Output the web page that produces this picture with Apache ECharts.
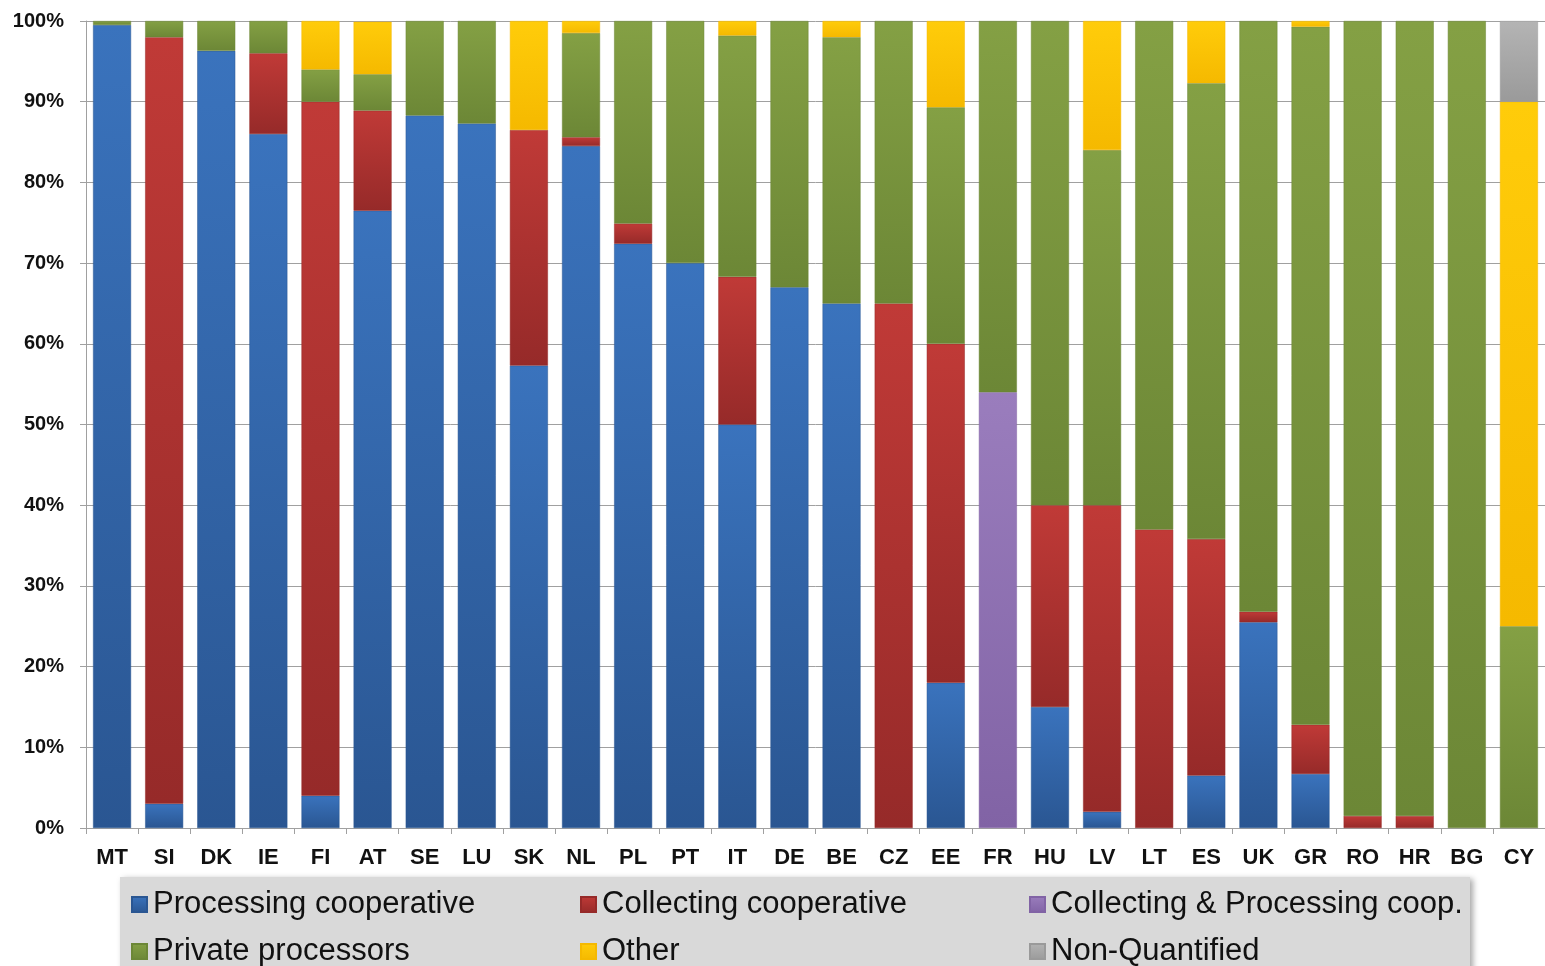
<!DOCTYPE html>
<html>
<head>
<meta charset="utf-8">
<script src="https://cdn.jsdelivr.net/npm/echarts@6/dist/echarts.min.js"></script>
<style>
  html, body { margin: 0; padding: 0; background: #fff; }
  #main { width: 1545px; height: 966px; }
</style>
</head>
<body>
<div id="main"></div>
<script>
// categories (countries)
const categories = ['MT','SI','DK','IE','FI','AT','SE','LU','SK','NL','PL','PT','IT','DE','BE','CZ','EE','FR','HU','LV','LT','ES','UK','GR','RO','HR','BG','CY'];

// shares in %
const processing = [99.5,3,96.3,86,4,76.5,88.3,87.3,57.3,84.5,72.4,70,50,67,65,0,18,0,15,2,0,6.5,25.5,6.7,0,0,0,0];
const collecting = [0,95,0,10,86,12.4,0,0,29.2,1.1,2.5,0,18.3,0,0,65,42,0,25,38,37,29.3,1.3,6.1,1.5,1.5,0,0];
const collProc   = [0,0,0,0,0,0,0,0,0,0,0,0,0,0,0,0,0,54,0,0,0,0,0,0,0,0,0,0];
const privateP   = [0.5,2,3.7,4,4,4.5,11.7,12.7,0,12.9,25.1,30,29.9,33,33,35,29.3,46,60,44,63,56.5,73.2,86.5,98.5,98.5,100,25];
const other      = [0,0,0,0,6,6.5,0,0,13.5,1.5,0,0,1.8,0,2,0,10.7,0,0,16,0,7.7,0,0.7,0,0,0,65];
const nonQuant   = [0,0,0,0,0,0,0,0,0,0,0,0,0,0,0,0,0,0,0,0,0,0,0,0,0,0,0,10];

const seriesNames = ['Processing cooperative','Collecting cooperative','Collecting & Processing coop.','Private processors','Other','Non-Quantified'];
const seriesData = [processing, collecting, collProc, privateP, other, nonQuant];
// [top colour, bottom colour]
const seriesColors = [
  ['#3a73bd', '#2a5692'],
  ['#c03a37', '#962a29'],
  ['#9a7dbd', '#8163a5'],
  ['#84a044', '#6c8736'],
  ['#ffcc0a', '#f5b900'],
  ['#b4b4b4', '#9a9a9a']
];

const FONT = "'Liberation Sans', Arial, sans-serif";

function grad(c) {
  return new echarts.graphic.LinearGradient(0, 0, 0, 1, [
    { offset: 0, color: c[0] },
    { offset: 1, color: c[1] }
  ]);
}

const series = seriesNames.map(function (name, i) {
  return {
    name: name,
    type: 'bar',
    stack: 'total',
    barWidth: 38,
    data: seriesData[i].map(function (v) { return v === 0 ? '-' : v; }),
    itemStyle: {
      color: grad(seriesColors[i]),
      borderColor: seriesColors[i][1],
      borderWidth: 0.5
    }
  };
});

// legend laid out as 3 columns x 2 rows
const legendPos = [
  [126, 884], [575, 884], [1024, 884],
  [126, 931], [575, 931], [1024, 931]
];
const legends = seriesNames.map(function (name, i) {
  return {
    data: [name],
    left: legendPos[i][0],
    top: legendPos[i][1],
    icon: 'rect',
    itemWidth: 15,
    itemHeight: 15,
    itemGap: 4,
    selectedMode: false,
    textStyle: { fontFamily: FONT, fontSize: 31, color: '#111', padding: [0, 0, 0, 1] }
  };
});

const option = {
  backgroundColor: '#fff',
  animation: false,
  grid: { left: 86, right: -6, top: 21, bottom: 138, containLabel: false },
  graphic: [{
    type: 'rect',
    z: -1,
    shape: { x: 120, y: 877, width: 1350, height: 95 },
    style: {
      fill: '#d9d9d9',
      shadowBlur: 6,
      shadowOffsetX: 3,
      shadowOffsetY: 2,
      shadowColor: 'rgba(0,0,0,0.35)'
    }
  }],
  legend: legends,
  xAxis: {
    type: 'category',
    data: categories,
    axisLine: { lineStyle: { color: '#a0a0a0', width: 1 } },
    axisTick: { show: true, length: 6, lineStyle: { color: '#a0a0a0' } },
    axisLabel: {
      fontFamily: FONT,
      fontWeight: 'bold',
      fontSize: 22,
      color: '#111',
      margin: 19,
      interval: 0
    }
  },
  yAxis: {
    type: 'value',
    min: 0,
    max: 100,
    interval: 10,
    axisLine: { show: true, lineStyle: { color: '#a0a0a0', width: 1 } },
    axisTick: { show: true, length: 6, lineStyle: { color: '#a0a0a0' } },
    splitLine: { lineStyle: { color: '#a0a0a0', width: 1 } },
    axisLabel: {
      formatter: '{value}%',
      fontFamily: FONT,
      fontWeight: 'bold',
      fontSize: 20,
      color: '#111',
      margin: 22
    }
  },
  series: series
};

const myChart = echarts.init(document.getElementById('main'));
myChart.setOption(option);
</script>
</body>
</html>
